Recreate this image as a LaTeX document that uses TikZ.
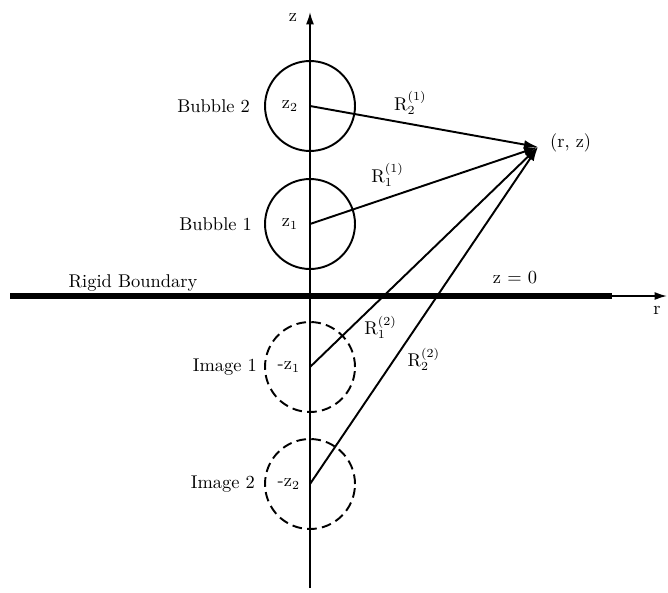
\documentclass[tikz,border=0pt]{standalone}
\usepackage{tikz}
\usetikzlibrary{arrows.meta,positioning}
\tikzset{
  bubble/.style={draw, circle, line width=1.1pt, minimum size=1.8cm, inner sep=0pt},
  imgbubble/.style={bubble, dash pattern=on 5.5pt off 3pt},
  axisline/.style={line width=0.9pt, -{Latex[length=7pt,width=4.5pt]}},
  wall/.style={line width=3.4pt},
  ray/.style={line width=1.1pt, -{Latex[length=8pt,width=5pt]}},
  lbl/.style={inner sep=1pt, font=\fontsize{10.5}{12}\selectfont},
}
\begin{document}
\begin{tikzpicture}[x=0.02cm,y=-0.02cm]
  \useasboundingbox (0,0) rectangle (668,592);
  % axes and boundary
  \coordinate (zbot) at (310,588);
  \coordinate (ztop) at (310,12);
  \coordinate (wl) at (10,296);
  \coordinate (wr) at (612,296);
  \coordinate (rend) at (667,296);
  \draw[wall] (wl) -- (wr);
  \draw[axisline] (wr) -- (rend);
  \draw[axisline] (zbot) -- (ztop);
  \node[lbl] (zax) at (293,18) {z};
  \node[lbl] (rax) at (657,310) {r};
  \node[lbl] (rigid) at (133,283) {Rigid Boundary};
  \node[lbl] (zzero) at (515,278) {z = 0};

  % bubbles and images
  \node[bubble] (b2) at (310,106) {};
  \node[bubble] (b1) at (310,224) {};
  \node[imgbubble] (i1) at (310,367) {};
  \node[imgbubble] (i2) at (310,484) {};
  \node[lbl, left=0.24cm of b2] (nb2) {Bubble 2};
  \node[lbl, left=0.2cm of b1] (nb1) {Bubble 1};
  \node[lbl, left=0.1cm of i1] (ni1) {Image 1};
  \node[lbl, left=0.14cm of i2] (ni2) {Image 2};
  \node[lbl, left=0.2cm of b2.center] (zb2) {z$_2$};
  \node[lbl, left=0.2cm of b1.center] (zb1) {z$_1$};
  \node[lbl, left=0.16cm of i1.center] (zi1) {-z$_1$};
  \node[lbl, left=0.16cm of i2.center] (zi2) {-z$_2$};

  % field point
  \coordinate (P) at (538,147);
  \node[lbl, anchor=west] (Plbl) at (548,143) {(r, z)};
  \draw[ray] (b2.center) -- (P) node[lbl, pos=0.44, above=4pt] {R$_2^{(1)}$};
  \draw[ray] (b1.center) -- (P) node[lbl, pos=0.34, above=5pt] {R$_1^{(1)}$};
  \draw[ray] (i1.center) -- (P) node[lbl, pos=0.18, right=6pt] {R$_1^{(2)}$};
  \draw[ray] (i2.center) -- (P) node[lbl, pos=0.37, right=6pt] {R$_2^{(2)}$};
\end{tikzpicture}
\end{document}
